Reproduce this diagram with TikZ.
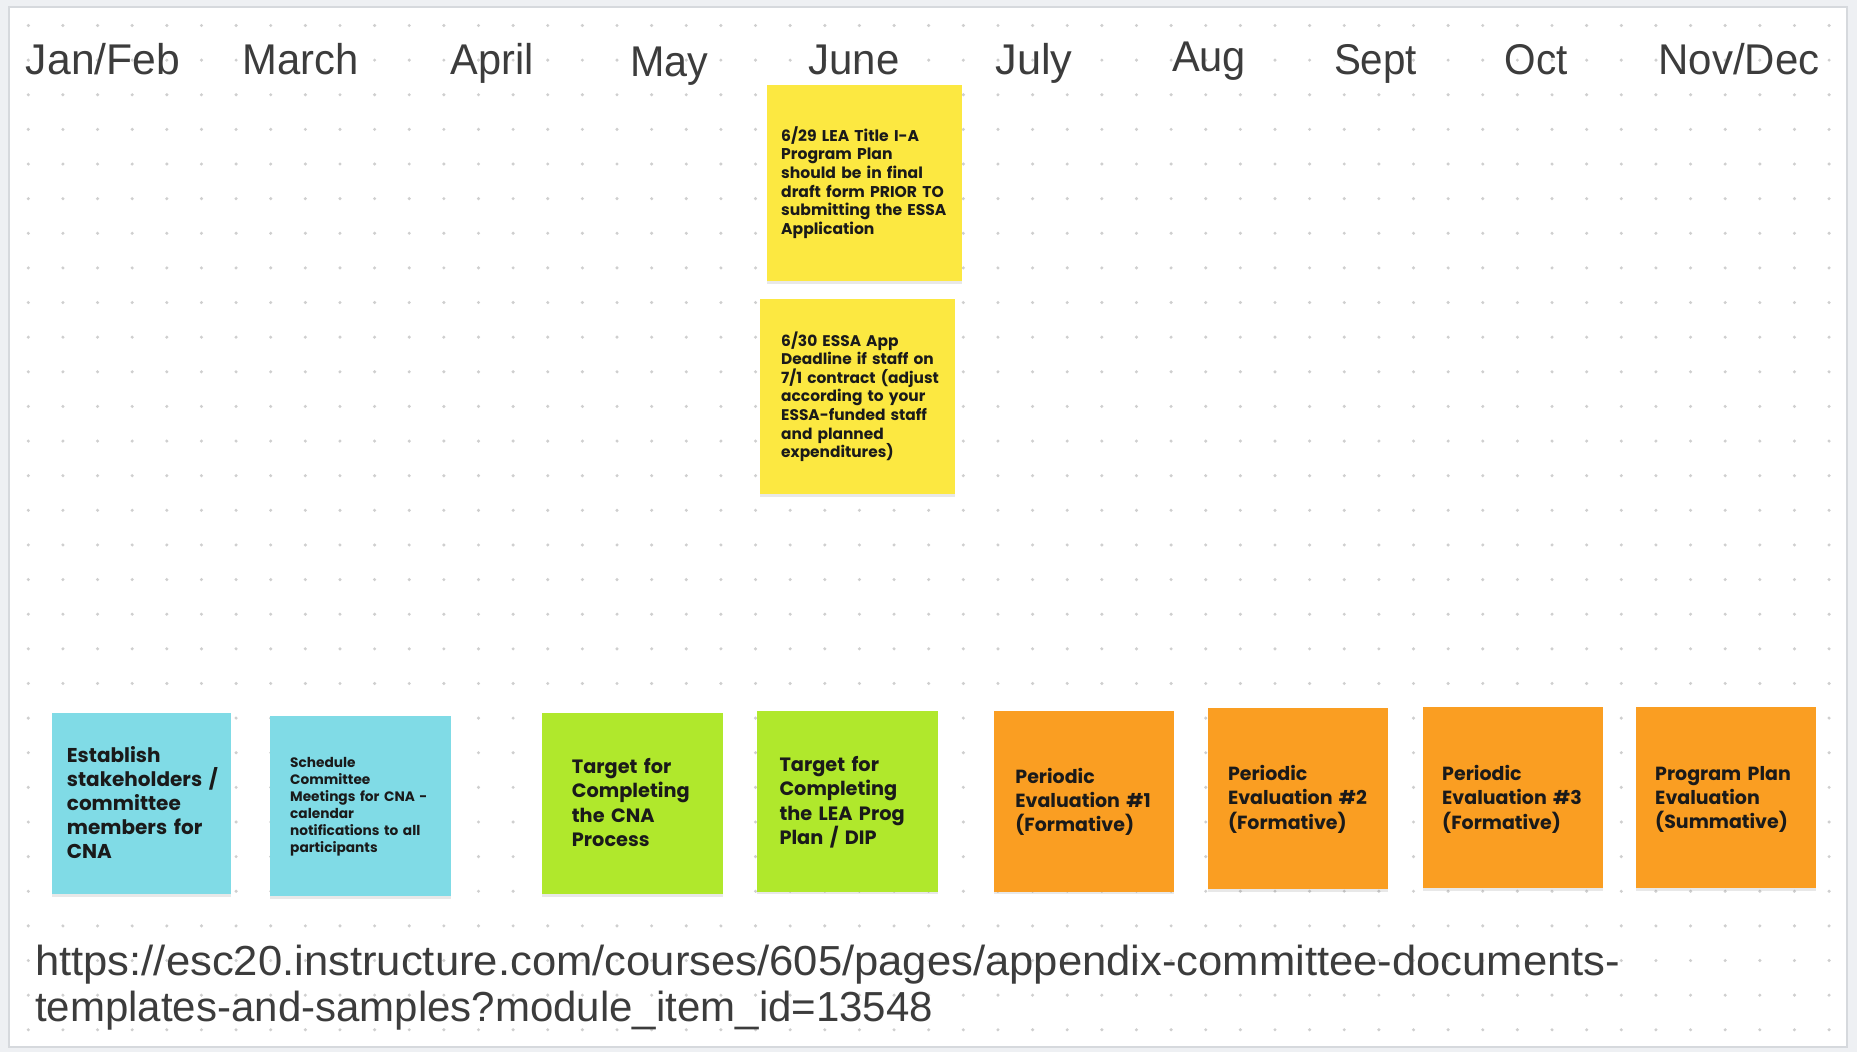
\documentclass[tikz,border=0pt]{standalone}
\usepackage{fontspec}
\usepackage{graphicx}
\usetikzlibrary{shadows}
\setmainfont{Liberation Sans}
\newfontfamily\notefont{Poppins}
\definecolor{framebg}{HTML}{EEF0F3}
\definecolor{frameline}{HTML}{D6D9DD}
\definecolor{dotc}{HTML}{CFCFCF}
\definecolor{monthc}{HTML}{3C3C3C}
\definecolor{notetext}{HTML}{1A1A1A}
\definecolor{nyellow}{HTML}{FCE841}
\definecolor{ncyan}{HTML}{80DBE6}
\definecolor{nlime}{HTML}{B0E82C}
\definecolor{norange}{HTML}{FA9E22}
\newcommand{\mlabel}[2]{\resizebox{#1pt}{\height}{#2}}
\tikzset{
  month/.style={anchor=base, inner sep=0pt, text=monthc, font=\fontsize{43}{43}\selectfont},
  sticky/.style={draw=none, drop shadow={shadow xshift=0pt, shadow yshift=-2.5pt, opacity=0.18}},
  notetxt/.style={anchor=base west, inner sep=0pt, align=left, text=notetext},
  urltxt/.style={anchor=base west, inner sep=0pt, text=monthc, font=\fontsize{42}{42}\selectfont},
}
\begin{document}
\begin{tikzpicture}[x=1pt,y=-1pt]
\useasboundingbox (0,0) rectangle (1857,1052);
% frame
\fill[framebg] (0,0) rectangle (1857,1052);
\filldraw[fill=white, draw=frameline, line width=1.5pt] (9,7) rectangle (1847,1047);
% dot grid
\foreach \i in {0,...,52}{
  \foreach \j in {0,...,29}{
    \fill[dotc] ({28.3+\i*34.63},{25.5+\j*34.63}) circle (1.7);
  }
}
% months
\node[month] (m1) at (103,74) {\mlabel{154}{Jan/Feb}};
\node[month] (m2) at (301,74) {\mlabel{116}{March}};
\node[month] (m3) at (492,74) {\mlabel{83}{April}};
\node[month] (m4) at (669,76) {\mlabel{78}{May}};
\node[month] (m5) at (854,74) {\mlabel{91}{June}};
\node[month] (m6) at (1034,74) {\mlabel{77}{July}};
\node[month] (m7) at (1209,71) {\mlabel{74}{Aug}};
\node[month] (m8) at (1375.5,74) {\mlabel{83}{Sept}};
\node[month] (m9) at (1536,74) {\mlabel{63}{Oct}};
\node[month] (m10) at (1739,74) {\mlabel{161}{Nov/Dec}};
% yellow notes
\fill[nyellow, sticky] (767,85) rectangle (962,281);
\node[notetxt, text width=180pt, font=\notefont\bfseries\fontsize{15.6}{18.7}\selectfont] (y1) at (781,141)
  {6/29 LEA Title I-A\\Program Plan\\should be in final\\draft form PRIOR TO\\submitting the ESSA\\Application};
\fill[nyellow, sticky] (760,299) rectangle (955,494);
\node[notetxt, text width=180pt, font=\notefont\bfseries\fontsize{15.4}{18.6}\selectfont] (y2) at (781,346)
  {6/30 ESSA App\\Deadline if staff on\\7/1 contract (adjust\\according to your\\ESSA-funded staff\\and planned\\expenditures)};
% cyan notes
\fill[ncyan, sticky] (51.7,713.3) rectangle (231,894);
\node[notetxt, text width=170pt, font=\notefont\bfseries\fontsize{20}{24}\selectfont] (c1) at (66.7,762.7)
  {Establish\\stakeholders /\\committee\\members for\\CNA};
\fill[ncyan, sticky] (270,715.7) rectangle (450.7,896);
\node[notetxt, text width=170pt, font=\notefont\bfseries\fontsize{13.7}{17.1}\selectfont] (c2) at (290,767.3)
  {Schedule\\Committee\\Meetings for CNA -\\calendar\\notifications to all\\participants};
% lime notes
\fill[nlime, sticky] (542.3,713) rectangle (722.7,894);
\node[notetxt, text width=170pt, font=\notefont\bfseries\fontsize{19.3}{24.4}\selectfont] (g1) at (571.7,773.3)
  {Target for\\Completing\\the CNA\\Process};
\fill[nlime, sticky] (757.3,711) rectangle (937.7,891.7);
\node[notetxt, text width=170pt, font=\notefont\bfseries\fontsize{19.3}{24.2}\selectfont] (g2) at (779.3,771.7)
  {Target for\\Completing\\the LEA Prog\\Plan / DIP};
% orange notes
\fill[norange, sticky] (994,710.7) rectangle (1174,891.7);
\node[notetxt, text width=170pt, font=\notefont\bfseries\fontsize{19}{24.2}\selectfont] (o1) at (1015.2,783.3)
  {Periodic\\Evaluation \#1\\(Formative)};
\fill[norange, sticky] (1208,708.3) rectangle (1388,889.3);
\node[notetxt, text width=170pt, font=\notefont\bfseries\fontsize{19}{24.2}\selectfont] (o2) at (1227.8,780.7)
  {Periodic\\Evaluation \#2\\(Formative)};
\fill[norange, sticky] (1423,707.3) rectangle (1602.5,888.3);
\node[notetxt, text width=170pt, font=\notefont\bfseries\fontsize{19}{24.2}\selectfont] (o3) at (1442,780.7)
  {Periodic\\Evaluation \#3\\(Formative)};
\fill[norange, sticky] (1636,707.3) rectangle (1816,888);
\node[notetxt, text width=170pt, font=\notefont\bfseries\fontsize{19}{24.2}\selectfont] (o4) at (1655,780)
  {Program Plan\\Evaluation\\(Summative)};
% url
\node[urltxt] (u1) at (35,975) {\resizebox{1585pt}{\height}{https://esc20.instructure.com/courses/605/pages/appendix-committee-documents-}};
\node[urltxt] (u2) at (35,1021.7) {\resizebox{898pt}{\height}{templates-and-samples?module\_item\_id=13548}};
\end{tikzpicture}
\end{document}
